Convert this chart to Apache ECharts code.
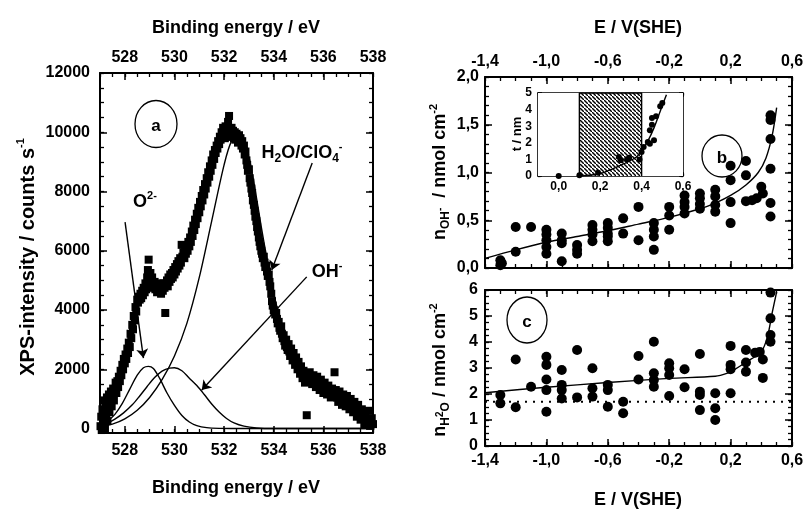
<!DOCTYPE html>
<html><head><meta charset="utf-8">
<script src="https://cdn.jsdelivr.net/npm/echarts@6/dist/echarts.min.js"></script>
<style>html,body{margin:0;padding:0;background:#fff}#c{width:807px;height:514px}</style>
</head><body><div id="c"></div>
<script>
// ---------- Panel a: XPS O1s spectrum ----------
const xpsData = [
[527.02,80],[527.05,400],[527.07,-50],[527.10,650],[527.12,150],[527.15,950],[527.17,350],[527.20,0],[527.22,750],[527.25,450],
[527.28,1050],[527.30,250],[527.33,800],[527.36,1150],[527.38,550],[527.41,950],[527.44,1250],[527.47,750],[527.50,1100],[527.53,1350],
[527.56,950],[527.60,1300],[527.63,1550],[527.66,1200],[527.70,1600],[527.73,1400],[527.76,1750],[527.80,1600],[527.83,1950],[527.86,1800],
[527.90,2150],[527.93,2000],[527.96,2350],[528.00,2200],[528.03,2500],[528.06,2350],[528.10,2700],[528.13,2550],[528.16,2900],[528.20,2750],
[528.23,3200],[528.26,3050],[528.30,3500],[528.33,3350],[528.36,3800],[528.40,3650],[528.43,4100],[528.46,3950],[528.50,4350],[528.53,4250],
[528.56,4450],[528.60,4350],[528.63,4550],[528.66,4400],[528.70,4650],[528.73,4500],[528.76,4750],[528.80,4600],[528.83,4900],[528.86,4700],
[528.90,5100],[528.93,5350],[528.96,5700],[529.00,5000],[529.03,5250],[529.06,4850],[529.10,5100],[529.13,4900],[529.16,4750],[529.20,4950],
[529.23,4700],[529.26,4850],[529.30,4600],[529.33,4800],[529.36,4650],[529.40,4900],[529.43,4700],[529.46,4550],[529.50,4800],[529.53,4650],
[529.56,4900],[529.60,4750],[529.63,3900],[529.66,4850],[529.70,5000],[529.73,4800],[529.76,5100],[529.80,4950],[529.83,5200],[529.86,5050],
[529.90,5250],[529.93,5100],[529.96,5350],[530.00,5200],[530.03,5450],[530.06,5300],[530.10,5550],[530.13,5400],[530.16,5650],[530.20,5500],
[530.23,5750],[530.26,5600],[530.29,6200],[530.32,5800],[530.36,5950],[530.40,5750],[530.43,6050],[530.46,5900],[530.50,6150],[530.53,6000],
[530.56,6300],[530.60,6150],[530.63,6450],[530.66,6300],[530.70,6650],[530.73,6500],[530.76,6850],[530.80,6700],[530.83,7050],[530.86,6900],
[530.90,7250],[530.93,7100],[530.96,7450],[531.00,7300],[531.03,7650],[531.06,7500],[531.10,7850],[531.13,7700],[531.16,8050],[531.20,7900],
[531.23,8250],[531.26,8100],[531.30,8450],[531.33,8300],[531.36,8650],[531.40,8500],[531.43,8850],[531.46,8700],[531.50,9050],[531.53,8900],
[531.56,9250],[531.60,9100],[531.63,9400],[531.66,9300],[531.70,9550],[531.73,9450],[531.76,9700],[531.80,9600],[531.83,9850],[531.86,9750],
[531.90,10000],[531.93,9900],[531.96,10150],[532.00,10050],[532.03,9800],[532.06,10200],[532.10,10000],[532.13,9850],[532.16,10350],[532.20,10550],
[532.23,10100],[532.26,9900],[532.30,10150],[532.33,9850],[532.36,10050],[532.40,9800],[532.43,10000],[532.46,9750],[532.50,9950],[532.53,9800],
[532.56,9650],[532.60,9900],[532.63,9700],[532.66,9800],[532.70,9550],[532.73,9700],[532.76,9450],[532.80,9550],[532.83,9250],[532.86,9350],
[532.90,9050],[532.93,8900],[532.96,8700],[533.00,8750],[533.03,8450],[533.06,8300],[533.10,8100],[533.13,7950],[533.16,7700],[533.20,7550],
[533.23,7350],[533.26,7150],[533.30,7000],[533.33,6800],[533.36,6650],[533.40,6450],[533.43,6300],[533.46,6150],[533.50,6000],[533.53,5900],
[533.56,5750],[533.60,5800],[533.63,5600],[533.66,5450],[533.70,5500],[533.73,5300],[533.76,5150],[533.80,5200],[533.83,4950],[533.86,4800],
[533.90,4550],[533.93,4300],[533.96,4150],[534.00,4000],[534.03,3950],[534.06,3850],[534.10,3900],[534.13,3700],[534.16,3550],[534.20,3600],
[534.23,3400],[534.26,3300],[534.30,3450],[534.33,3200],[534.36,3050],[534.40,3150],[534.43,2950],[534.46,2800],[534.50,3000],[534.53,2750],
[534.56,2650],[534.60,2850],[534.63,2600],[534.66,2450],[534.70,2700],[534.73,2500],[534.76,2300],[534.80,2550],[534.83,2350],[534.86,2150],
[534.90,2400],[534.93,2200],[534.96,2000],[535.00,2250],[535.03,2050],[535.06,1850],[535.10,2100],[535.13,1900],[535.16,1700],[535.20,1950],
[535.23,1750],[535.26,1550],[535.30,1800],[535.33,450],[535.36,1650],[535.40,1650],[535.45,1900],[535.50,1700],[535.55,1500],[535.60,1800],
[535.65,1600],[535.70,1400],[535.75,1750],[535.80,1500],[535.85,1300],[535.90,1650],[535.95,1400],[536.00,1200],[536.05,1550],[536.10,1350],
[536.15,1150],[536.20,1450],[536.25,1250],[536.30,1050],[536.35,1350],[536.40,1150],[536.45,1900],[536.50,1300],[536.55,1050],[536.60,900],
[536.65,1250],[536.70,1000],[536.75,800],[536.80,1150],[536.85,950],[536.90,750],[536.95,1100],[537.00,900],[537.05,650],[537.10,1000],
[537.15,800],[537.20,550],[537.25,900],[537.30,650],[537.35,400],[537.40,800],[537.45,550],[537.50,300],[537.55,650],[537.60,400],
[537.65,150],[537.70,500],[537.75,250],[537.80,600],[537.85,300],[537.90,100],[537.95,350],[538.00,150]
];
const fitO2 = [[527.0,110],[527.3,250],[527.6,480],[527.9,850],[528.2,1330],[528.5,1800],[528.75,2050],[528.95,2100],[529.15,2030],[529.4,1700],[529.7,1200],[530.0,780],[530.3,440],[530.6,220],[530.9,100],[531.3,30],[531.8,5],[532.5,0],[538.0,0]];
const fitOH = [[527.0,100],[527.3,190],[527.6,320],[527.95,530],[528.3,800],[528.6,1100],[528.9,1420],[529.2,1720],[529.5,1940],[529.8,2040],[530.0,2050],[530.3,1950],[530.6,1700],[530.9,1450],[531.2,1150],[531.5,830],[531.8,560],[532.1,340],[532.4,190],[532.8,80],[533.3,20],[534.0,0],[538.0,0]];
const fitH2O = [[527.0,60],[527.5,150],[528.0,330],[528.5,620],[529.0,1050],[529.5,1650],[530.0,2450],[530.5,3550],[531.0,5100],[531.5,7000],[532.0,8900],[532.3,9700],[532.6,9900],[532.9,9500],[533.2,8300],[533.5,6800],[533.8,5400],[534.1,4200],[534.4,3300],[534.8,2500],[535.2,1900],[535.7,1450],[536.2,1100],[536.8,800],[537.4,520],[538.0,300]];
const xpsTicks = [528,530,532,534,536,538];
const xpsYTicks = [0,2000,4000,6000,8000,10000,12000];

// ---------- Panel b: n(OH-) vs E ----------
const ohData = [
[-1.30,0.08],[-1.30,0.03],[-1.29,0.05],[-1.20,0.43],[-1.20,0.17],[-1.10,0.43],
[-1.00,0.40],[-1.00,0.35],[-1.00,0.29],[-1.00,0.22],[-1.00,0.15],
[-0.90,0.36],[-0.90,0.29],[-0.90,0.26],[-0.90,0.07],
[-0.80,0.24],[-0.80,0.19],[-0.80,0.15],
[-0.70,0.45],[-0.70,0.40],[-0.70,0.35],[-0.70,0.28],
[-0.60,0.47],[-0.60,0.42],[-0.60,0.36],[-0.60,0.33],[-0.60,0.28],
[-0.50,0.52],[-0.50,0.36],[-0.40,0.64],[-0.40,0.29],
[-0.30,0.47],[-0.30,0.40],[-0.30,0.33],[-0.30,0.19],
[-0.20,0.64],[-0.20,0.55],[-0.20,0.40],
[-0.10,0.76],[-0.10,0.69],[-0.10,0.64],[-0.10,0.57],
[0.00,0.78],[0.00,0.73],[0.00,0.67],[0.00,0.62],
[0.10,0.82],[0.10,0.75],[0.10,0.66],[0.10,0.59],
[0.20,1.07],[0.20,0.92],[0.20,0.69],[0.20,0.47],
[0.30,1.12],[0.30,0.97],[0.30,0.70],[0.34,0.71],[0.37,0.73],[0.40,0.85],[0.41,0.78],
[0.46,1.60],[0.46,1.55],[0.46,1.35],[0.46,1.04],[0.46,0.68],[0.46,0.54]
];
const ohFit = [[-1.4,0.10],[-1.2,0.19],[-1.0,0.27],[-0.8,0.33],[-0.6,0.39],[-0.4,0.46],[-0.2,0.53],[0.0,0.62],[0.1,0.68],[0.2,0.76],[0.3,0.87],[0.38,1.0],[0.43,1.15],[0.47,1.38],[0.5,1.68]];
const eTicks = [-1.4,-1.0,-0.6,-0.2,0.2,0.6];
const ohYTicks = [0,0.5,1.0,1.5,2.0];

// ---------- Inset: t / nm ----------
const insetData = [[0.0,0.0],[0.1,0.05],[0.19,0.2],[0.29,1.15],[0.30,0.95],[0.33,1.0],[0.34,1.1],[0.39,1.0],[0.40,1.45],[0.41,1.75],[0.43,2.05],[0.44,1.95],[0.46,2.15],[0.44,2.75],[0.45,3.08],[0.45,3.5],[0.47,3.6],[0.49,4.2],[0.50,4.4]];
const insetFit = [[0.1,0.0],[0.2,0.15],[0.3,0.65],[0.37,1.1],[0.4,1.5],[0.43,2.1],[0.46,2.9],[0.49,3.9],[0.52,4.9]];
const insetBand = [0.1,0.4];
const insetXTicks = [0.0,0.2,0.4,0.6];
const insetYTicks = [0,1,2,3,4,5];

// ---------- Panel c: n(H2O) vs E ----------
const h2oData = [
[-1.30,1.96],[-1.30,1.64],[-1.20,3.33],[-1.20,1.49],[-1.10,2.28],
[-1.00,3.43],[-1.00,3.12],[-1.00,2.56],[-1.00,2.15],[-1.00,1.32],
[-0.90,2.92],[-0.90,2.35],[-0.90,2.15],[-0.90,1.83],
[-0.80,3.69],[-0.80,1.87],
[-0.70,2.99],[-0.70,2.22],[-0.70,1.90],
[-0.60,2.35],[-0.60,2.15],[-0.60,1.51],
[-0.50,1.70],[-0.50,1.26],
[-0.40,3.46],[-0.40,2.56],
[-0.30,4.01],[-0.30,2.80],[-0.30,2.54],[-0.30,2.28],
[-0.20,3.18],[-0.20,2.99],[-0.20,2.73],[-0.20,1.92],
[-0.10,2.95],[-0.10,2.26],
[0.00,3.54],[0.00,2.09],[0.00,1.96],[0.00,1.38],
[0.10,2.03],[0.10,1.45],[0.10,1.00],
[0.20,3.85],[0.20,3.12],[0.20,2.95],[0.20,2.03],
[0.30,3.69],[0.30,3.21],[0.30,2.86],
[0.36,3.59],[0.39,3.62],[0.41,3.33],[0.41,2.62],
[0.46,5.90],[0.46,4.91],[0.46,4.27],[0.46,4.01]
];
const h2oFit = [[-1.4,2.05],[-1.0,2.26],[-0.6,2.44],[-0.2,2.6],[0.1,2.68],[0.18,2.8],[0.22,2.92],[0.3,3.22],[0.4,3.63],[0.44,4.2],[0.47,5.1],[0.5,5.93]];
const h2oRef = [[-1.4,1.7],[0.6,1.7]];
const h2oYTicks = [0,1,2,3,4,5,6];

// ---------- helpers ----------
const FONT = '"Liberation Sans", Arial, sans-serif';
function steps(a, b, s) { const o = []; for (let v = a; v <= b + 1e-9; v += s) o.push(+v.toFixed(4)); return o; }
const comma1 = v => (+v).toFixed(1).replace('.', ',');
const plain = v => String(v);

function axisSet(gridIndex, min, max, major, minor, pos, showLabel, fmt, sz) {
  const common = { type: 'value', gridIndex, min, max, position: pos, splitLine: { show: false }, silent: true };
  return [
    Object.assign({}, common, {
      axisLine: { show: true, onZero: false, lineStyle: { color: '#000', width: sz.lw } },
      axisTick: { show: true, inside: true, length: sz.major, customValues: major, lineStyle: { color: '#000', width: 1.5 } },
      axisLabel: { show: showLabel, customValues: major, formatter: fmt, color: '#000', fontSize: sz.font, fontWeight: 'bold', fontFamily: FONT, margin: sz.margin }
    }),
    Object.assign({}, common, {
      axisLine: { show: false, onZero: false },
      axisTick: { show: true, inside: true, length: sz.minor, customValues: minor, lineStyle: { color: '#000', width: 1.3 } },
      axisLabel: { show: false }
    })
  ];
}
const big = m => ({ font: 16, major: 7, minor: 4, margin: m, lw: 2 });
const small = m => ({ font: 12, major: 4, minor: 2.5, margin: m, lw: 1.6 });

const xAxis = [
  ...axisSet(0, 527, 538, xpsTicks, steps(527, 538, 0.5), 'bottom', true, plain, big(10)),
  ...axisSet(0, 527, 538, xpsTicks, steps(527, 538, 0.5), 'top', true, plain, big(7)),
  ...axisSet(1, -1.4, 0.6, eTicks, steps(-1.4, 0.6, 0.1), 'bottom', false, comma1, big(7)),
  ...axisSet(1, -1.4, 0.6, eTicks, steps(-1.4, 0.6, 0.1), 'top', true, comma1, big(7)),
  ...axisSet(2, -1.4, 0.6, eTicks, steps(-1.4, 0.6, 0.1), 'bottom', true, comma1, big(7)),
  ...axisSet(2, -1.4, 0.6, eTicks, steps(-1.4, 0.6, 0.1), 'top', false, comma1, big(7)),
  ...axisSet(3, -0.1, 0.6, insetXTicks, steps(-0.1, 0.6, 0.1), 'bottom', true, comma1, small(5)),
  ...axisSet(3, -0.1, 0.6, insetXTicks, steps(-0.1, 0.6, 0.1), 'top', false, comma1, small(5))
];
const yAxis = [
  ...axisSet(0, -150, 12000, xpsYTicks, steps(0, 12000, 500), 'left', true, plain, big(10)),
  ...axisSet(0, -150, 12000, xpsYTicks, steps(0, 12000, 500), 'right', false, plain, big(10)),
  ...axisSet(1, 0, 2, ohYTicks, steps(0, 2, 0.1), 'left', true, comma1, big(6)),
  ...axisSet(1, 0, 2, ohYTicks, steps(0, 2, 0.1), 'right', false, comma1, big(6)),
  ...axisSet(2, 0, 6, h2oYTicks, steps(0, 6, 0.25), 'left', true, plain, big(7)),
  ...axisSet(2, 0, 6, h2oYTicks, steps(0, 6, 0.25), 'right', false, plain, big(7)),
  ...axisSet(3, 0, 5, insetYTicks, steps(0, 5, 0.5), 'left', true, plain, small(6)),
  ...axisSet(3, 0, 5, insetYTicks, steps(0, 5, 0.5), 'right', false, plain, small(6))
];

// hatch pattern
const pc = document.createElement('canvas');
pc.width = 4; pc.height = 4;
const g = pc.getContext('2d');
g.fillStyle = '#fff'; g.fillRect(0, 0, 4, 4);
g.strokeStyle = '#000'; g.lineWidth = 1.4;
g.beginPath(); g.moveTo(-1, -1); g.lineTo(5, 5); g.stroke();

const line = (xi, data, extra) => Object.assign({
  type: 'line', xAxisIndex: xi, yAxisIndex: xi, data, showSymbol: false, smooth: 0.3,
  lineStyle: { color: '#000', width: 1.4 }, silent: true, z: 3
}, extra || {});
const scatter = (xi, data, symbol, size) => ({
  type: 'scatter', xAxisIndex: xi, yAxisIndex: xi, data, symbol, symbolSize: size,
  itemStyle: { color: '#000', opacity: 1 }, silent: true, z: 4
});

const rt = {
  sup: { fontSize: 11, fontWeight: 'bold', fontFamily: FONT, verticalAlign: 'top', lineHeight: 11, fill: '#000' },
  sub: { fontSize: 12, fontWeight: 'bold', fontFamily: FONT, verticalAlign: 'bottom', lineHeight: 12, fill: '#000' },
  subsup: { fontSize: 10, fontWeight: 'bold', fontFamily: FONT, verticalAlign: 'middle', lineHeight: 10, fill: '#000' }
};
function txt(x, y, text, size, rot) {
  return {
    type: 'text', x, y, rotation: rot || 0, z: 10, silent: true,
    style: { text, fill: '#000', fontSize: size, fontWeight: 'bold', fontFamily: FONT,
      align: 'center', verticalAlign: 'middle', lineHeight: size + 6, rich: rt }
  };
}
function ell(cx, cy, rx, ry) {
  return { type: 'ellipse', z: 10, silent: true, shape: { cx, cy, rx, ry }, style: { fill: 'none', stroke: '#000', lineWidth: 1.3 } };
}

const chart = echarts.init(document.getElementById('c'), null, { renderer: 'canvas' });
chart.setOption({
  animation: false,
  backgroundColor: '#fff',
  grid: [
    { left: 100, top: 73, width: 273, height: 360 },
    { left: 485, top: 77, width: 307, height: 191 },
    { left: 485, top: 290, width: 307, height: 156 },
    { left: 538, top: 93, width: 145, height: 83, show: true, backgroundColor: '#fff', borderWidth: 0, z: 5 }
  ],
  xAxis, yAxis,
  series: [
    scatter(0, xpsData, 'rect', 8),
    line(0, fitO2), line(0, fitOH), line(0, fitH2O),
    {
      type: 'lines', coordinateSystem: 'cartesian2d', xAxisIndex: 0, yAxisIndex: 0, silent: true, z: 5,
      symbol: ['none', 'arrow'], symbolSize: 9,
      lineStyle: { color: '#000', width: 1.4, opacity: 1, curveness: 0 },
      data: [
        { coords: [[528.01, 6970], [528.75, 2380]] },
        { coords: [[535.55, 8960], [533.92, 5350]] },
        { coords: [[535.33, 5120], [531.1, 1300]] }
      ]
    },
    scatter(4, ohData, 'circle', 10), line(4, ohFit),
    scatter(8, h2oData, 'circle', 10), line(8, h2oFit),
    line(8, h2oRef, { smooth: false, lineStyle: { color: '#000', width: 2, type: [2, 6] }, z: 2 }),
    // hatched potential window in the inset
    line(12, [[insetBand[0], 0], [insetBand[0], 5], [insetBand[1], 5], [insetBand[1], 0]], {
      smooth: false, z: 6,
      lineStyle: { color: '#000', width: 1.5 },
      areaStyle: { color: { image: pc, repeat: 'repeat' }, opacity: 1, origin: 'start' }
    }),
    line(12, insetFit, { z: 8 }),
    Object.assign(scatter(12, insetData, 'circle', 6), { z: 9 })
  ],
  graphic: [
    txt(236, 28, 'Binding energy / eV', 18),
    txt(236, 488, 'Binding energy / eV', 18),
    txt(28, 257, 'XPS-intensity / counts s{sup|-1}', 20, Math.PI / 2),
    txt(638, 28, 'E / V(SHE)', 18),
    txt(638, 500, 'E / V(SHE)', 18),
    txt(440, 172, 'n{sub|OH}{subsup|-}  / nmol cm{sup|-2}', 18, Math.PI / 2),
    txt(440, 370, 'n{sub|H}{subsup|2}{sub|O} / nmol cm{sup|-2}', 18, Math.PI / 2),
    txt(517, 134, 't / nm', 13, Math.PI / 2),
    txt(145, 202, 'O{sup|2-}', 18),
    txt(302, 153, 'H{sub|2}O/ClO{sub|4}{sup|-}', 18),
    txt(327, 272, 'OH{sup|-}', 18),
    ell(156, 124, 21, 23.5), txt(156, 126, 'a', 17),
    ell(722, 156, 20, 21), txt(722, 158, 'b', 17),
    ell(527, 320, 20, 23), txt(527, 322, 'c', 17)
  ]
});
</script>
</body></html>
